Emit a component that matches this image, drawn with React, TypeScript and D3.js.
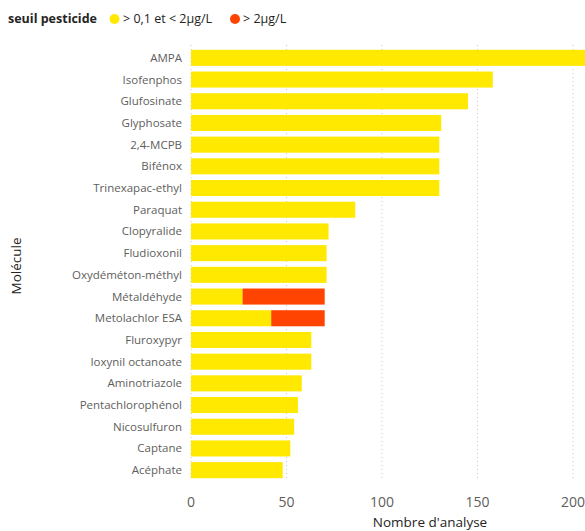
import React from "react";
import * as d3 from "d3";

const molecules = [
  "AMPA", "Isofenphos", "Glufosinate", "Glyphosate", "2,4-MCPB", "Bifénox",
  "Trinexapac-ethyl", "Paraquat", "Clopyralide", "Fludioxonil", "Oxydéméton-méthyl",
  "Métaldéhyde", "Metolachlor ESA", "Fluroxypyr", "Ioxynil octanoate", "Aminotriazole",
  "Pentachlorophénol", "Nicosulfuron", "Captane", "Acéphate",
];
const lowValues = [215, 158, 145, 131, 130, 130, 130, 86, 72, 71, 71, 27, 42, 63, 63, 58, 56, 54, 52, 48];
const highValues = [0, 0, 0, 0, 0, 0, 0, 0, 0, 0, 0, 43, 28, 0, 0, 0, 0, 0, 0, 0];
const xTicks = [0, 50, 100, 150, 200];
const seriesLabels = ["> 0,1 et < 2µg/L", "> 2µg/L"];
const seriesColors = ["#FFE900", "#FF4300"];

const W = 585, H = 531;
const font = "'Segoe UI', 'Open Sans', 'Noto Sans', sans-serif";

export default function App() {
  const x = d3.scaleLinear().domain([0, 200]).range([191, 573]);
  const y = d3.scaleBand<string>().domain(molecules).range([47, 481]).paddingInner(0.26).paddingOuter(0.13);
  const bh = y.bandwidth();
  return (
    <svg width={W} height={H} style={{ position: "absolute", left: 0, top: 0, background: "#fff" }} fontFamily={font}>
      {/* legend */}
      <text x={8} y={23} fontSize={12.5} fontWeight="bold" fill="#252423">seuil pesticide</text>
      <circle cx={114.5} cy={19} r={5} fill={seriesColors[0]} />
      <text x={123} y={23} fontSize={12.5} fill="#252423">{seriesLabels[0]}</text>
      <circle cx={235} cy={19} r={5} fill={seriesColors[1]} />
      <text x={243} y={23} fontSize={12.5} fill="#252423">{seriesLabels[1]}</text>

      {/* grid */}
      {xTicks.map((t) => (
        <line key={t} x1={x(t)} x2={x(t)} y1={45} y2={481} stroke="#C8C6C4" strokeWidth={1} strokeDasharray="1,3" />
      ))}

      {/* bars */}
      {molecules.map((m, i) => (
        <g key={m}>
          <rect x={x(0)} y={y(m)} width={x(lowValues[i]) - x(0)} height={bh} fill={seriesColors[0]} />
          {highValues[i] > 0 && (
            <rect x={x(lowValues[i])} y={y(m)} width={x(lowValues[i] + highValues[i]) - x(lowValues[i])} height={bh} fill={seriesColors[1]} />
          )}
          <text x={182} y={(y(m) as number) + bh / 2} dy="0.35em" textAnchor="end" fontSize={11.5} fill="#605E5C">{m}</text>
        </g>
      ))}

      {/* x ticks */}
      {xTicks.map((t) => (
        <text key={t} x={x(t)} y={507} textAnchor="middle" fontSize={14} fill="#605E5C">{t}</text>
      ))}
      <text x={430} y={527} textAnchor="middle" fontSize={13.5} fill="#252423">Nombre d'analyse</text>
      <text transform="translate(21,266) rotate(-90)" textAnchor="middle" fontSize={13.5} fill="#252423">Molécule</text>
    </svg>
  );
}
